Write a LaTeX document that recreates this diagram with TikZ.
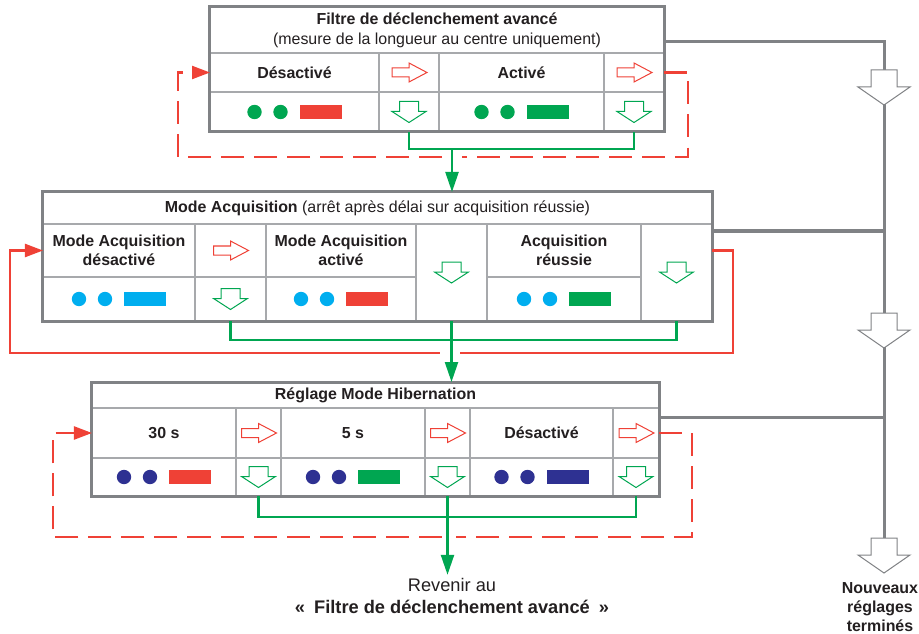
\documentclass[tikz,border=0pt]{standalone}
\usepackage{fontspec}
\setmainfont{Liberation Sans}
\usetikzlibrary{arrows.meta,calc}

\definecolor{ledgreen}{RGB}{0,166,81}
\definecolor{ledred}{RGB}{239,65,54}
\definecolor{ledcyan}{RGB}{0,174,239}
\definecolor{lednavy}{RGB}{46,49,146}
\definecolor{framegrey}{RGB}{128,130,133}
\definecolor{cellgrey}{RGB}{167,169,172}
\definecolor{txt}{RGB}{35,31,32}

\newcommand{\cellfont}{\fontsize{16}{19}\selectfont}
% hollow arrows inside the cells
\newcommand{\redarr}[1]{\draw[ledred,line width=1bp,fill=white] ($(#1)+(-17,-4.5)$) -- ++(17,0) -- ++(0,-5) -- ++(18,9.5) -- ++(-18,9.5) -- ++(0,-5) -- ++(-17,0) -- cycle;}
\newcommand{\greenarr}[1]{\draw[ledgreen,line width=1bp,fill=white] ($(#1)+(-9.5,-10.5)$) -- ++(0,10) -- ++(-7.5,0) -- ++(17,11) -- ++(17,-11) -- ++(-7.5,0) -- ++(0,-10) -- cycle;}
\newcommand{\greyarr}[1]{\draw[framegrey,line width=1bp,fill=white] ($(#1)+(-13,0)$) -- ++(0,17) -- ++(-13,0) -- ++(26,18) -- ++(26,-18) -- ++(-13,0) -- ++(0,-17) -- cycle;}
% two dots and a bar
\newcommand{\ledrow}[3]{\fill[#1] ($(#3)+(-40,0)$) circle (7.2bp) ($(#3)+(-14,0)$) circle (7.2bp);
  \fill[#2] ($(#3)+(5,-7)$) rectangle ($(#3)+(47,7)$);}

\begin{document}
\begin{tikzpicture}
  [x=1bp,y=-1bp,every node/.style={text=txt,font=\cellfont},
   cell/.style 2 args={draw=cellgrey,line width=1.3bp,inner sep=0pt,outer sep=0pt,align=center,
     minimum width=#1bp,minimum height=#2bp},
   frame/.style={draw=framegrey,line width=3bp},
   gline/.style={draw=ledgreen,line width=2.3bp},
   garrow/.style={gline,-{Triangle[length=20bp,width=13bp]}},
   rline/.style={draw=ledred,line width=2.3bp},
   rdash/.style={rline,dash pattern=on 23bp off 10bp},
   rtip/.style={-{Triangle[length=18bp,width=13bp]}},
   greyline/.style={draw=framegrey,line width=3bp}]

  \useasboundingbox (0,0) rectangle (919,634);

  % top block
  \node[cell={454}{46},font=\fontsize{16}{20}\selectfont] (ttitle) at (437,30)
    {\textbf{Filtre de déclenchement avancé}\\(mesure de la longueur au centre uniquement)};
  \node[cell={169}{39}] (td) at (294.5,72.5) {\textbf{Désactivé}};
  \node[cell={60}{39}] (tr1) at (409,72.5) {};
  \node[cell={165}{39}] (ta) at (521.5,72.5) {\textbf{Activé}};
  \node[cell={60}{39}] (tr2) at (634,72.5) {};
  \node[cell={169}{40}] (tdl) at (294.5,112) {};
  \node[cell={60}{40}] (tg1) at (409,112) {};
  \node[cell={165}{40}] (tal) at (521.5,112) {};
  \node[cell={60}{40}] (tg2) at (634,112) {};
  \draw[frame] (ttitle.north west) rectangle (tg2.south east);

  % middle block
  \node[cell={669}{32}] (mtitle) at (377.5,208)
    {\textbf{Mode Acquisition} (arrêt après délai sur acquisition réussie)};
  \node[cell={152}{53}] (md) at (119,250.5) {\textbf{Mode Acquisition}\\\textbf{désactivé}};
  \node[cell={71}{53}] (mr1) at (230.5,250.5) {};
  \node[cell={150}{53}] (ma) at (341,250.5) {\textbf{Mode Acquisition}\\\textbf{activé}};
  \node[cell={71}{97}] (mg2) at (451.5,272.5) {};
  \node[cell={154}{53}] (ms) at (564,250.5) {\textbf{Acquisition}\\\textbf{réussie}};
  \node[cell={71}{97}] (mg3) at (676.5,272.5) {};
  \node[cell={152}{44}] (mdl) at (119,299) {};
  \node[cell={71}{44}] (mg1) at (230.5,299) {};
  \node[cell={150}{44}] (mal) at (341,299) {};
  \node[cell={154}{44}] (msl) at (564,299) {};
  \draw[frame] (mtitle.north west) rectangle (mg3.south east);

  % bottom block
  \node[cell={567}{26}] (btitle) at (375.5,395) {\textbf{Réglage Mode Hibernation}};
  \node[cell={144}{50}] (b30) at (164,433) {\textbf{30 s}};
  \node[cell={45}{50}] (br1) at (258.5,433) {};
  \node[cell={144}{50}] (b5) at (353,433) {\textbf{5 s}};
  \node[cell={45}{50}] (br2) at (447.5,433) {};
  \node[cell={143}{50}] (boff) at (541.5,433) {\textbf{Désactivé}};
  \node[cell={46}{50}] (br3) at (636,433) {};
  \node[cell={144}{38}] (b30l) at (164,477) {};
  \node[cell={45}{38}] (bg1) at (258.5,477) {};
  \node[cell={144}{38}] (b5l) at (353,477) {};
  \node[cell={45}{38}] (bg2) at (447.5,477) {};
  \node[cell={143}{38}] (boffl) at (541.5,477) {};
  \node[cell={46}{38}] (bg3) at (636,477) {};
  \draw[frame] (btitle.north west) rectangle (bg3.south east);

  \foreach \n in {tr1,tr2,mr1,br1,br2,br3}
    \redarr{\n};
  \foreach \n in {tg1,tg2,mg1,mg2,mg3,bg1,bg2,bg3}
    \greenarr{\n};
  \foreach \n/\a/\b in {tdl/ledgreen/ledred,tal/ledgreen/ledgreen,mdl/ledcyan/ledcyan,
      mal/ledcyan/ledred,msl/ledcyan/ledgreen,b30l/lednavy/ledred,b5l/lednavy/ledgreen,boffl/lednavy/lednavy}
    \ledrow{\a}{\b}{\n};

  \node[align=center,font=\fontsize{18.3}{22}\selectfont] (back) at (452,596)
    {Revenir au\\\textbf{«\hspace{4bp} Filtre de déclenchement avancé \hspace{4bp}»}};
  \node[align=center,font=\cellfont\bfseries] (done) at (880,607) {Nouveaux\\réglages\\terminés};

  % red loops back to the first setting
  \coordinate (tlr) at (688,157);
  \coordinate (tll) at (178,157);
  \coordinate (tj) at (452,149);
  \draw[rdash] (tr2.east) -| (tlr) -- ($(tj |- tlr)+(10,0)$);
  \draw[rdash,rtip] ($(tj |- tlr)+(-10,0)$) -- (tll) |- (td.west);

  \coordinate (mlr) at (733,353);
  \coordinate (mll) at (10,353);
  \draw[rline] (mg3.east |- ms.east) -| (mlr) -- ($(mg2.south |- mlr)+(8,0)$);
  \draw[rline,rtip] ($(mg2.south |- mlr)+(-12,0)$) -- (mll) |- (md.west);

  \coordinate (blr) at (692,537);
  \coordinate (bll) at (53,537);
  \draw[rdash] (br3.east) -| (blr) -- ($(bg2.south |- blr)+(8,0)$);
  \draw[rdash,rtip] ($(bg2.south |- blr)+(-6,0)$) -- (bll) |- (b30.west);

  % green paths
  \draw[gline] (tg1.south) -- (tg1.south |- tj) -| (tg2.south);
  \draw[garrow] (tj) -- (tj |- mtitle.north);
  \draw[gline] (mg1.south) -- ++(0,19) -| (mg3.south);
  \draw[garrow] (mg2.south) -- (mg2.south |- btitle.north);
  \draw[gline] (bg1.south) -- ++(0,21) -| (bg3.south);
  \draw[garrow] (bg2.south) -- (bg2.south |- back.north);

  % grey exits
  \coordinate (gend) at (884,540);
  \draw[greyline] ($(ttitle.south east)+(0,-11)$) -| (gend);
  \draw[greyline] ($(mtitle.south east)+(0,7)$) -- ($(mtitle.south east -| gend)+(0,7)$);
  \draw[greyline] ($(btitle.south east)+(0,9)$) -- ($(btitle.south east -| gend)+(0,9)$);
  \foreach \y in {70,313,538}
    \greyarr{884,\y};
\end{tikzpicture}
\end{document}
